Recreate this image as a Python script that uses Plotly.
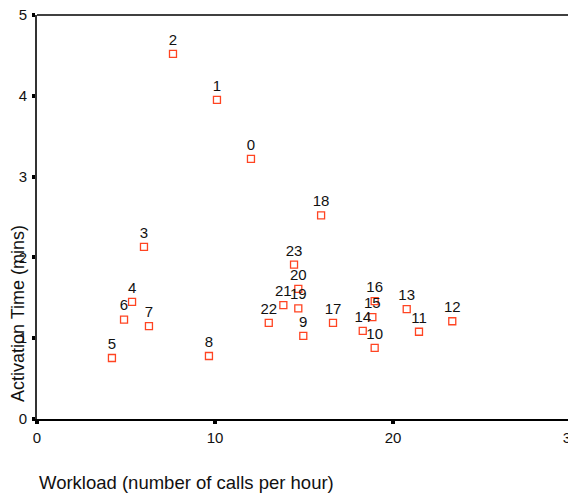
import plotly.graph_objects as go

case_ids = [str(i) for i in range(24)]
workload = [12.02, 10.11, 7.64, 6.01, 5.34, 4.21, 4.89, 6.29, 9.66, 14.96,
            18.97, 21.46, 23.33, 20.77, 18.30, 18.84, 18.97, 16.63, 15.96, 14.68,
            14.68, 13.84, 13.02, 14.44]
activation = [3.22, 3.95, 4.52, 2.13, 1.45, 0.755, 1.23, 1.15, 0.78, 1.03,
              0.88, 1.08, 1.21, 1.36, 1.09, 1.26, 1.46, 1.19, 2.52, 1.37,
              1.61, 1.41, 1.19, 1.91]
x_ticks = [0, 10, 20, 30]
y_ticks = [0, 1, 2, 3, 4, 5]

FONT = "Liberation Sans, Arial, sans-serif"

fig = go.Figure()
fig.add_trace(go.Scatter(
    x=workload, y=activation, text=case_ids,
    mode="markers+text", textposition="top center",
    textfont=dict(family=FONT, size=15, color="#111"),
    marker=dict(symbol="square-open", size=7, color="#ff4422",
                line=dict(width=1.3, color="#ff4422")),
    cliponaxis=False, showlegend=False,
))

fig.update_layout(
    width=568, height=486,
    margin=dict(l=29, r=5, t=7, b=75, autoexpand=False),
    paper_bgcolor="white", plot_bgcolor="white",
    font=dict(family=FONT, size=15, color="#111"),
    xaxis=dict(range=[0, 30], tickvals=x_ticks, showgrid=False, zeroline=False,
               showline=True, linecolor="black", linewidth=1.5,
               ticks="outside", ticklen=3, tickwidth=4, tickcolor="black",
               tickfont=dict(size=15), ticklabelstandoff=1,
               ticklabeloverflow="allow"),
    yaxis=dict(range=[0, 5], tickvals=y_ticks, showgrid=False, zeroline=False,
               showline=True, linecolor="#333", linewidth=2,
               ticks="outside", ticklen=3, tickwidth=4, tickcolor="black",
               tickfont=dict(size=15), ticklabelstandoff=2,
               ticklabeloverflow="allow"),
    shapes=[
        dict(type="line", xref="paper", yref="paper", x0=0, x1=1, y0=1, y1=1,
             line=dict(color="black", width=1.5)),
        dict(type="line", xref="paper", yref="paper", x0=1, x1=1, y0=0, y1=1,
             line=dict(color="#888", width=2)),
    ],
    annotations=[
        dict(text="Activation Time (mins)", xref="paper", yref="paper",
             x=0, y=0.26, xshift=-19, textangle=-90, showarrow=False,
             font=dict(family=FONT, size=18, color="#111"),
             xanchor="center", yanchor="middle"),
        dict(text="Workload (number of calls per hour)", xref="paper", yref="paper",
             x=0, y=0, yshift=-63, showarrow=False,
             font=dict(family=FONT, size=18.5, color="#111"),
             xanchor="left", yanchor="middle"),
    ],
)

fig.write_html("out.html")
